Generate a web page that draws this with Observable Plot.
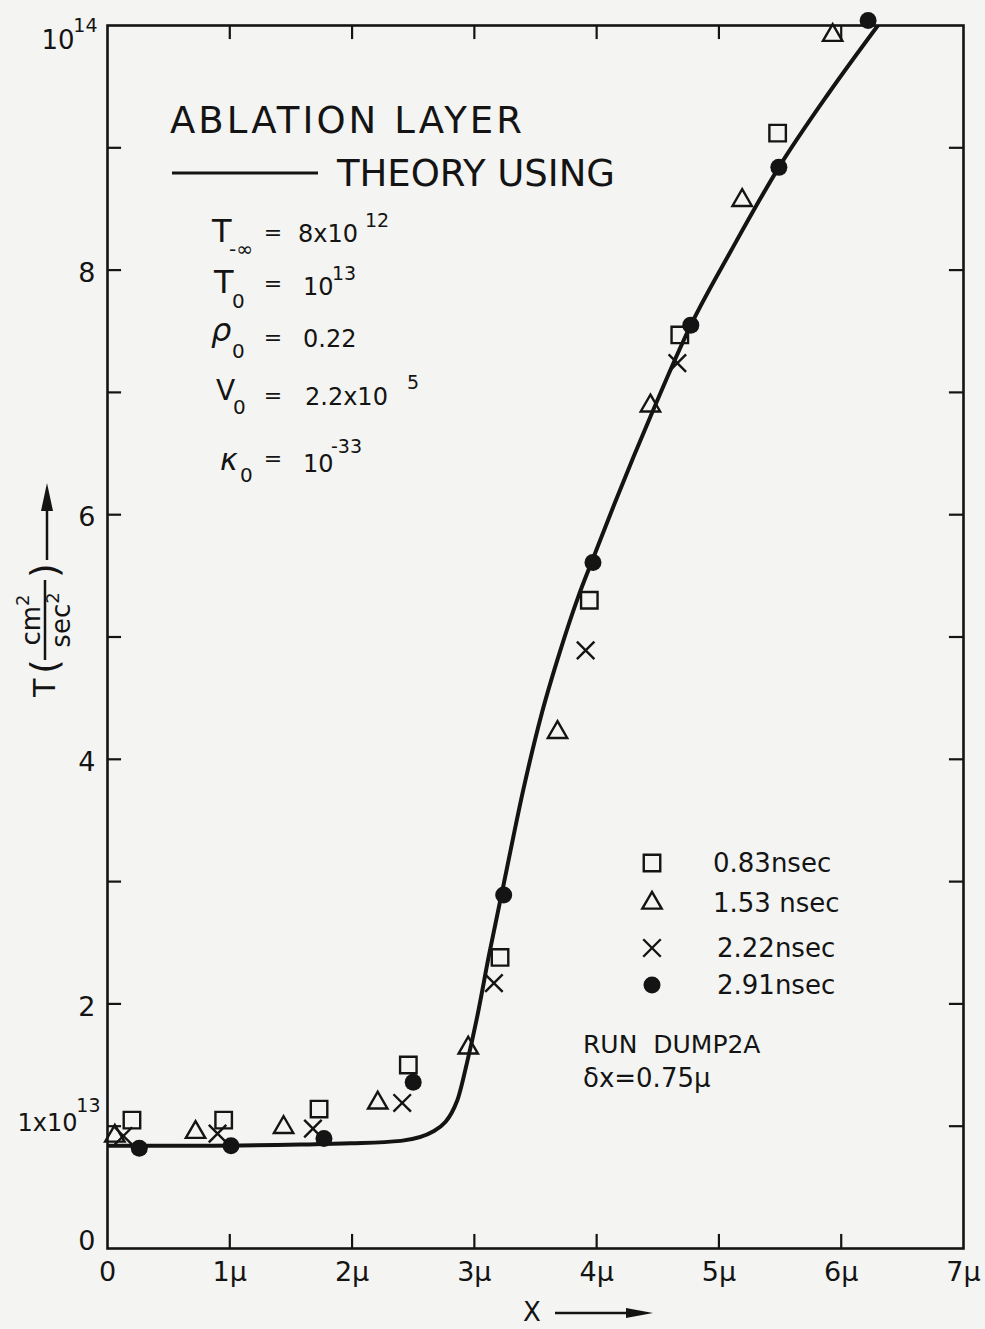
<!DOCTYPE html>
<html><head><meta charset="utf-8">
<script src="https://cdn.jsdelivr.net/npm/d3@7"></script>
<script src="https://cdn.jsdelivr.net/npm/@observablehq/plot@0.6"></script>
<style>
html,body{margin:0;padding:0;background:#f4f4f2;}
#chart{width:985px;height:1329px;overflow:hidden;}
</style></head><body><div id="chart"></div>
<script>
// ---- data (x in microns, T in units of 10^13 cm^2/sec^2) ----
const curveX = [0, 0.76, 1.58, 1.99, 2.40, 2.67, 2.86, 2.94, 3.02, 3.12, 3.24, 3.40, 3.55, 3.70, 3.85, 3.97, 4.15, 4.46, 4.77, 5.10, 5.49, 5.90, 6.30];
const curveY = [0.84, 0.84, 0.85, 0.86, 0.88, 0.96, 1.21, 1.52, 1.88, 2.40, 2.98, 3.75, 4.37, 4.88, 5.33, 5.64, 6.10, 6.85, 7.55, 8.16, 8.84, 9.45, 10.0];

const sqX = [0.20, 0.95, 1.73, 2.46, 3.21, 3.94, 4.68, 5.48];
const sqY = [1.05, 1.05, 1.14, 1.50, 2.38, 5.30, 7.47, 9.12];

const triX = [0.06, 0.72, 1.44, 2.21, 2.95, 3.68, 4.44, 5.19, 5.93];
const triY = [0.92, 0.95, 0.99, 1.19, 1.64, 4.22, 6.89, 8.57, 9.92];

const crsX = [0.13, 0.90, 1.68, 2.41, 3.16, 3.91, 4.66];
const crsY = [0.92, 0.94, 0.98, 1.19, 2.17, 4.89, 7.24];

const dotX = [0.26, 1.01, 1.77, 2.50, 3.24, 3.97, 4.77, 5.49, 6.22];
const dotY = [0.82, 0.84, 0.90, 1.36, 2.89, 5.61, 7.55, 8.84, 10.04];

const xTicks = [0, 1, 2, 3, 4, 5, 6, 7];
const xTickLabels = ["0", "1μ", "2μ", "3μ", "4μ", "5μ", "6μ", "7μ"];
const yTicks = [0, 1, 2, 3, 4, 5, 6, 7, 8, 9, 10];
const yLabelVals = [2, 4, 6, 8];
const yLabelText = ["2", "4", "6", "8"];
const legendLabels = ["0.83nsec", "1.53 nsec", "2.22nsec", "2.91nsec"];

const zip = (xs, ys) => xs.map((x, i) => ({x, y: ys[i]}));
const curve = zip(curveX, curveY);
const squares = zip(sqX, sqY);
const triangles = zip(triX, triY);
const crosses = zip(crsX, crsY);
const dots = zip(dotX, dotY);

const INK = "#141414";
const FONT = "DejaVu Sans, sans-serif";
const tickLen = 0.115;

const plot = Plot.plot({
  width: 985, height: 1329,
  marginLeft: 107, marginRight: 22, marginTop: 25, marginBottom: 81,
  x: {domain: [0, 7], axis: null},
  y: {domain: [0, 10], axis: null},
  style: {background: "#f4f4f2", fontFamily: FONT, color: INK, overflow: "visible"},
  marks: [
    // inward ticks on all four sides
    Plot.ruleX(xTicks.slice(1, -1), {x: d => d, y1: 0, y2: tickLen, stroke: INK, strokeWidth: 2.2}),
    Plot.ruleX(xTicks.slice(1, -1), {x: d => d, y1: 10, y2: 10 - tickLen, stroke: INK, strokeWidth: 2.2}),
    Plot.ruleY(yTicks.slice(1, -1), {y: d => d, x1: 0, x2: tickLen, stroke: INK, strokeWidth: 2.2}),
    Plot.ruleY(yTicks.slice(1, -1), {y: d => d, x1: 7, x2: 7 - tickLen, stroke: INK, strokeWidth: 2.2}),
    Plot.frame({stroke: INK, strokeWidth: 2.6}),
    // tick labels
    Plot.text(xTicks, {x: d => d, text: (d, i) => xTickLabels[i], frameAnchor: "bottom", lineAnchor: "top", dy: 13, fontSize: 27, fill: INK}),
    Plot.text(yLabelVals, {y: d => d, text: (d, i) => yLabelText[i], frameAnchor: "left", textAnchor: "end", dx: -12, dy: 3, fontSize: 27, fill: INK}),
    Plot.text([0], {y: d => d, text: ["0"], frameAnchor: "left", textAnchor: "end", dx: -12, dy: -7, fontSize: 27, fill: INK}),
    Plot.text([1], {y: d => d, text: ["1x10"], frameAnchor: "left", textAnchor: "end", dx: -30, dy: -3, fontSize: 24, fill: INK}),
    Plot.text([1], {y: d => d, text: ["13"], frameAnchor: "left", textAnchor: "end", dx: -7, dy: -20, fontSize: 19, fill: INK}),
    Plot.text([10], {y: d => d, text: ["10"], frameAnchor: "left", textAnchor: "end", dx: -33, dy: 15, fontSize: 26, fill: INK}),
    Plot.text([10], {y: d => d, text: ["14"], frameAnchor: "left", textAnchor: "end", dx: -10, dy: 0, fontSize: 19, fill: INK}),
    // theory curve
    Plot.line(curve, {x: "x", y: "y", curve: "monotone-x", stroke: INK, strokeWidth: 4, clip: true}),
    // data
    Plot.dot(squares, {x: "x", y: "y", symbol: "square", r: 9.3, stroke: INK, strokeWidth: 2.4, fill: "none"}),
    Plot.dot(triangles, {x: "x", y: "y", symbol: "triangle", r: 7.2, stroke: INK, strokeWidth: 2.4, fill: "none"}),
    Plot.dot(crosses, {x: "x", y: "y", symbol: "times", r: 8, stroke: INK, strokeWidth: 2.4}),
    Plot.dot(dots, {x: "x", y: "y", symbol: "circle", r: 8.5, fill: INK, stroke: "none"})
  ]
});
document.getElementById("chart").appendChild(plot);

// ---- annotations ----
const svg = d3.select(plot);
const g = svg.append("g").attr("font-family", FONT).attr("fill", INK).attr("text-anchor", "start");
function txt(s, x, y, size, opts = {}) {
  const t = g.append("text").attr("x", x).attr("y", y).attr("font-size", size)
    .attr("text-anchor", opts.anchor || "start").text(s);
  if (opts.len) t.attr("textLength", opts.len).attr("lengthAdjust", "spacing");
  if (opts.italic) t.attr("font-style", "italic");
  return t;
}
txt("ABLATION LAYER", 170, 133, 37, {len: 352});
g.append("line").attr("x1", 172).attr("x2", 318).attr("y1", 173).attr("y2", 173).attr("stroke", INK).attr("stroke-width", 3);
txt("THEORY USING", 337, 186, 37, {len: 278});

// parameter block
txt("T", 212, 242, 32); txt("-∞", 229, 256, 20); txt("=", 273, 240, 22, {anchor: "middle"});
txt("8x10", 298, 242, 24); txt("12", 365, 227, 19);
txt("T", 214, 293, 32); txt("0", 232, 308, 20); txt("=", 273, 291, 22, {anchor: "middle"});
txt("10", 303, 295, 24); txt("13", 332, 280, 19);
txt("ρ", 211, 341, 32, {italic: true}); txt("0", 232, 358, 20); txt("=", 273, 345, 22, {anchor: "middle"});
txt("0.22", 303, 347, 24);
txt("V", 216, 400, 28); txt("0", 233, 414, 20); txt("=", 273, 403, 22, {anchor: "middle"});
txt("2.2x10", 305, 405, 24); txt("5", 407, 389, 19);
txt("κ", 220, 470, 30, {italic: true}); txt("0", 240, 482, 20); txt("=", 273, 466, 22, {anchor: "middle"});
txt("10", 303, 472, 24); txt("-33", 331, 453, 19);

// legend
const legendY = [863, 903, 948, 985];
const legendSym = [
  {t: d3.symbolSquare, r: 9.3, fill: "none"},
  {t: d3.symbolTriangle, r: 7.2, fill: "none"},
  {t: d3.symbolTimes, r: 8, fill: "none"},
  {t: d3.symbolCircle, r: 8.5, fill: INK}
];
const legendTextX = [713, 713, 717, 717];
legendLabels.forEach((lab, i) => {
  const s = legendSym[i];
  g.append("path")
    .attr("d", d3.symbol(s.t, s.r * s.r * Math.PI)())
    .attr("transform", `translate(652,${legendY[i]})`)
    .attr("fill", s.fill)
    .attr("stroke", s.fill === "none" ? INK : "none")
    .attr("stroke-width", 2.4);
  txt(lab, legendTextX[i], legendY[i] + 9, 26);
});
txt("RUN  DUMP2A", 583, 1053, 25);
txt("δx=0.75μ", 583, 1087, 26);

// x-axis label with arrow
txt("X", 532, 1321, 26, {anchor: "middle"});
g.append("line").attr("x1", 555).attr("x2", 630).attr("y1", 1313).attr("y2", 1313).attr("stroke", INK).attr("stroke-width", 2.5);
g.append("path").attr("d", "M626,1308 L653,1313 L626,1318 Z").attr("fill", INK);

// y-axis label, rotated
const yl = g.append("g").attr("transform", "translate(45,697) rotate(-90)");
yl.append("text").attr("x", 0).attr("y", 10).attr("font-size", 30).attr("text-anchor", "start").text("T");
yl.append("text").attr("x", 23).attr("y", 12).attr("font-size", 38).attr("text-anchor", "start").text("(");
yl.append("line").attr("x1", 37).attr("x2", 117).attr("y1", 0).attr("y2", 0).attr("stroke", INK).attr("stroke-width", 2.5);
const cm = yl.append("text").attr("x", 77).attr("y", -5).attr("font-size", 26).attr("text-anchor", "middle");
cm.append("tspan").text("cm");
cm.append("tspan").attr("dy", -11).attr("font-size", 18).text("2");
const sec = yl.append("text").attr("x", 77).attr("y", 25).attr("font-size", 26).attr("text-anchor", "middle");
sec.append("tspan").text("sec");
sec.append("tspan").attr("dy", -11).attr("font-size", 18).text("2");
yl.append("text").attr("x", 119).attr("y", 12).attr("font-size", 38).attr("text-anchor", "start").text(")");
yl.append("line").attr("x1", 137).attr("x2", 190).attr("y1", 2).attr("y2", 2).attr("stroke", INK).attr("stroke-width", 2.5);
yl.append("path").attr("d", "M186,-4 L214,2 L186,8 Z").attr("fill", INK);
</script>
</body></html>
